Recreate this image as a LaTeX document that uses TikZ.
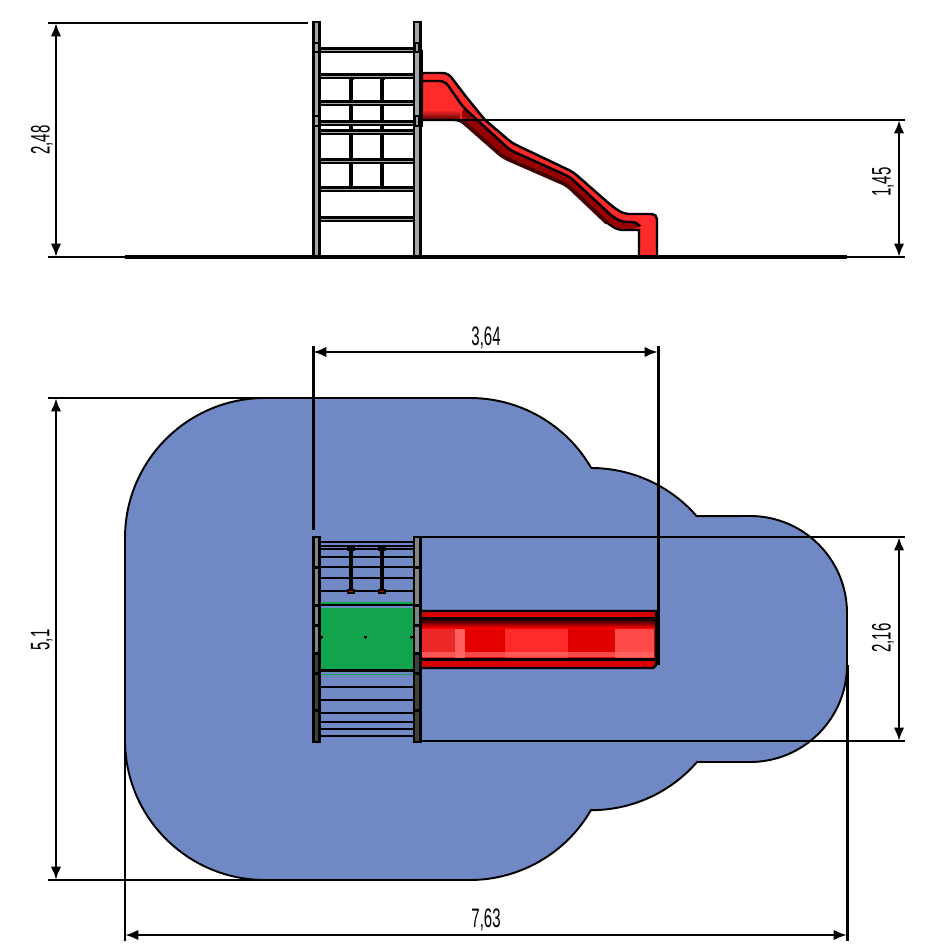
\documentclass[tikz,border=0pt]{standalone}
\usepackage{fontspec}
\setmainfont{Liberation Sans}
\usetikzlibrary{arrows.meta}

\definecolor{matblue}{RGB}{112,137,197}
\definecolor{matgreen}{RGB}{18,164,76}
\definecolor{sliderer}{RGB}{255,42,42}
\definecolor{slidedark}{RGB}{150,0,0}
\definecolor{postgrey}{RGB}{165,165,170}
\definecolor{postdark}{RGB}{64,64,64}

\tikzset{
	dimline/.style={line width=0.6pt},
	dimarrow/.style={line width=0.8pt,{Latex[length=3.8pt,width=3pt]}-{Latex[length=3.8pt,width=3pt]}},
	dimlabel/.style={font=\fontsize{7.6}{8}\selectfont,inner sep=0pt,xscale=0.56},
	outline/.style={line width=0.7pt},
	postline/.style={line width=0.75pt},
	rung/.style={line width=1.5pt},
	rungcore/.style={line width=0.28pt,postgrey},
	bar/.style={line width=1.15pt}
}

\begin{document}
\begin{tikzpicture}[x=0.01cm,y=-0.01cm]
\useasboundingbox (0,0) rectangle (946,946);

% --- end points of the dimensions
\coordinate (a1) at (56,23);
\coordinate (a2) at (56,257);
\coordinate (b1) at (899,120);
\coordinate (b2) at (899,257);
\coordinate (c1) at (313,352);
\coordinate (c2) at (658,352);
\coordinate (d1) at (56,398);
\coordinate (d2) at (56,880);
\coordinate (e1) at (899,537);
\coordinate (e2) at (899,741);
\coordinate (f1) at (125,935);
\coordinate (f2) at (847,935);

% --- side view: ladder
\foreach \x in {351,382}{
	\draw[bar](\x,80)--(\x,187);
	\draw[line width=0.8pt](\x-2.5,79)--(\x+2.5,79);
	\draw[line width=0.8pt](\x-2.5,187)--(\x+2.5,187);
}
\foreach \y in {50,76,103,123,132,161,189,219}{
	\draw[rung](320,\y)--(414,\y);
	\draw[rungcore](320,\y)--(414,\y);
}
\foreach \x in {313.2,414}{
	\draw[postline,fill=postgrey](\x,22) rectangle (\x+6.6,257);
	\foreach \y/\z in {42/53,115/127}
		\fill(\x,\y) rectangle (\x+6.6,\z);
	\fill[postgrey](\x+2.2,44) rectangle (\x+4.4,51);
	\fill[postgrey](\x+2.2,117) rectangle (\x+4.4,125);
}
\draw[outline](421.7,50)--(421.7,127);

% --- side view: slide
\draw[outline,fill=sliderer,rounded corners=1.5pt](422,73)--(448,73)--(467,98)--(485,120)--(512,143)--(573,172)--(613,207)
	--(624,214)--(657,214)--(657,235)[sharp corners]--(657,257)--(639,257)--(639,230)[rounded corners=1.5pt]
	--(618,230)--(607,223)--(567,185)--(503,157)--(478,135)--(460,120)[sharp corners]--(422,120)--cycle;
\fill[slidedark,rounded corners=1.5pt](463,107)--(510,150)--(570,177)--(613,217)--(622,222)--(637,222)--(639,225)--(639,229)
	--(618,229)--(608,222)--(568,184)--(504,156)--(479,134)--(461,119)--cycle;
\shade[top color=sliderer,bottom color=slidedark!60!black](423,110) rectangle (460,119.5);
\draw[line width=1.1pt,black!75!red,rounded corners=1.5pt](461,120)--(478,135)--(503,157)--(567,185)--(607,223);
\draw[outline,rounded corners=1.5pt](422,81)--(445,81)--(463,107)--(510,150)--(570,177)--(613,217)--(622,222)--(637,222)--(639,225);

% --- top view: mat
\draw[line width=0.55pt,fill=matblue](125,538) arc[start angle=180,end angle=270,radius=140]
	--(470,398) arc[start angle=270,end angle=330,radius=140]
	--(591,468) arc[start angle=270,end angle=319,radius=140]
	--(750,516) arc[start angle=270,end angle=360,radius=97]
	--(847,665) arc[start angle=0,end angle=90,radius=97]
	--(697,762) arc[start angle=41,end angle=90,radius=140]
	--(591,810) arc[start angle=30,end angle=90,radius=140]
	--(265,880) arc[start angle=90,end angle=180,radius=140]--cycle;

% --- top view: slide
\fill[red!85!black](421,611)--(656,611)--(656,665)--(653,668)--(421,668)--cycle;
\foreach \a/\b/\c in {421/455/{sliderer!92!black},455/465/{sliderer!75!white},465/505/{red!90!black},505/568/sliderer,568/615/{red!88!black},615/654/{sliderer!85!white}}
	\fill[\c](\a,627) rectangle (\b,659);
\fill[sliderer!70!white,opacity=0.7](421,652) rectangle (654,657);
\shade[top color=black,bottom color=red](421,618) rectangle (656,628);
\draw[line width=0.7pt](421,618)--(656,618);
\draw[line width=0.7pt](421,659.5)--(656,659.5);
\draw[outline](421,611)--(656,611)--(656,665)--(653,668)--(421,668);

% --- top view: climbing frame
\fill[matgreen](320,608) rectangle (414,669);
\draw[line width=0.3pt,matgreen](320,603)--(414,603);
\draw[line width=0.3pt,matgreen](320,674.5)--(414,674.5);
\draw[line width=0.55pt](320,669.5)--(414,669.5);
\foreach \y in {542,546,549,557,567,578,591,605,671,687,700,713,722,729,736}
	\draw[line width=0.7pt](320,\y)--(414,\y);
\foreach \x in {351,382}{
	\draw[bar](\x,550)--(\x,590);
	\draw[line width=1pt](\x-4,549)--(\x+4,549);
	\fill(\x-4,589) rectangle (\x+4,594);
	\fill[red!80!black](\x-2,591) rectangle (\x+2,592);
}
\foreach \x in {365.5,321.5,411.5}{
	\draw[line width=0.3pt](\x-1.5,637)--(\x+1.5,637);
	\draw[line width=0.3pt](\x,635.5)--(\x,638.5);
}
\foreach \x in {313.2,414}{
	\draw[postline,fill=postgrey!80!black](\x,537) rectangle (\x+6.6,653);
	\draw[postline,fill=postdark](\x,653) rectangle (\x+6.6,742);
	\foreach \y in {567,605,625,653,673,710}
		\fill(\x,\y-1.5) rectangle (\x+6.6,\y+1.5);
}

% --- extension lines
\foreach \x/\y/\u/\v in {48/23/308/23,48/257/125/257,847/257/905/257,420/120/905/120,48/398/265/398,48/880/265/880,420/537/905/537,420/741/905/741}
	\draw[dimline](\x,\y)--(\u,\v);
\draw[line width=0.9pt](125,257)--(847,257);
\foreach \x/\y/\v in {313/346/530,658/346/665,125/735/941,847/665/941}
	\draw[line width=0.85pt](\x,\y)--(\x,\v);

% --- dimensions
\foreach \p/\q in {a1/a2,b1/b2,c1/c2,d1/d2,e1/e2,f1/f2}
	\draw[dimarrow](\p)--(\q);

\node[rotate=90,dimlabel](dimA) at (42,140) {2,48};
\node[rotate=90,dimlabel](dimB) at (883,182) {1,45};
\node[dimlabel](dimC) at (486,338) {3,64};
\node[rotate=90,dimlabel](dimD) at (42,640) {5,1};
\node[rotate=90,dimlabel](dimE) at (883,638) {2,16};
\node[dimlabel](dimF) at (486,920) {7,63};

\end{tikzpicture}
\end{document}
